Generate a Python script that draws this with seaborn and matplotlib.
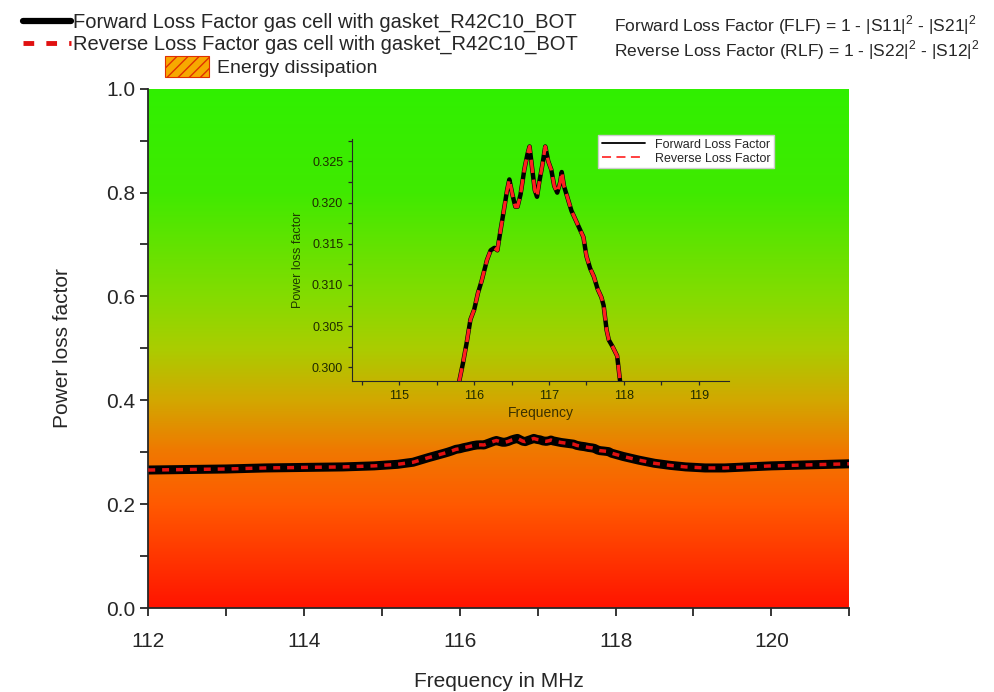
import matplotlib
matplotlib.use("Agg")
import matplotlib.pyplot as plt
import numpy as np
import pandas as pd
import seaborn as sns
from matplotlib.colors import LinearSegmentedColormap
from matplotlib.lines import Line2D
from matplotlib.patches import Patch
from matplotlib.ticker import MultipleLocator

# full sweep, wings
left_freq = [112.0, 112.5, 113.0, 113.5, 114.0, 114.5, 114.9, 115.2, 115.4, 115.6]
left_loss = [0.266, 0.267, 0.268, 0.270, 0.271, 0.272, 0.274, 0.277, 0.281, 0.290]
right_freq = [118.1, 118.3, 118.5, 118.7, 118.9, 119.15, 119.4, 119.7, 120.0, 120.5, 121.0]
right_loss = [0.292, 0.285, 0.279, 0.275, 0.272, 0.270, 0.270, 0.272, 0.274, 0.276, 0.278]

# peak region
peak_freq = [115.80, 115.85, 115.90, 115.95, 116.00, 116.05, 116.10, 116.17, 116.22, 116.27,
             116.31, 116.35, 116.39, 116.44, 116.47, 116.51, 116.55, 116.58, 116.62, 116.67,
             116.71, 116.74, 116.77, 116.81, 116.84, 116.87, 116.91, 116.95, 116.99, 117.03,
             117.07, 117.11, 117.15, 117.17, 117.20, 117.25, 117.30, 117.35, 117.40, 117.46,
             117.50, 117.55, 117.60, 117.65, 117.70, 117.73, 117.77, 117.80, 117.85, 117.91,
             117.95]
peak_loss = [0.2983, 0.3005, 0.3030, 0.3058, 0.3070, 0.3090, 0.3105, 0.3130, 0.3142, 0.3145,
             0.3142, 0.3165, 0.3187, 0.3215, 0.3228, 0.3210, 0.3195, 0.3195, 0.3210, 0.3240,
             0.3258, 0.3268, 0.3245, 0.3215, 0.3207, 0.3225, 0.3245, 0.3268, 0.3250, 0.3240,
             0.3220, 0.3212, 0.3225, 0.3237, 0.3220, 0.3205, 0.3190, 0.3180, 0.3170, 0.3158,
             0.3135, 0.3120, 0.3110, 0.3095, 0.3085, 0.3075, 0.3045, 0.3033, 0.3025, 0.3014,
             0.2983]

main = pd.DataFrame({"freq": left_freq + peak_freq + right_freq,
                     "loss": left_loss + peak_loss + right_loss})
peak = pd.DataFrame({"freq": peak_freq, "loss": peak_loss})

sns.set_style("ticks")
plt.rcParams["font.family"] = ["Liberation Sans", "DejaVu Sans"]
plt.rcParams["mathtext.fontset"] = "custom"
plt.rcParams["mathtext.rm"] = "Liberation Sans"

fig = plt.figure(figsize=(9.95, 6.92), dpi=100)
ax = fig.add_axes([0.149, 0.121, 0.7045, 0.751])

bg = LinearSegmentedColormap.from_list(
    "dissipation",
    [(0.0, "#ff1400"), (0.2, "#ff5a00"), (0.3, "#f07800"), (0.4, "#d2a800"),
     (0.5, "#aacd00"), (0.6, "#84dc00"), (0.8, "#40ea00"), (1.0, "#30f000")])
ax.imshow(np.linspace(0, 1, 256).reshape(-1, 1), cmap=bg, origin="lower",
          extent=[112, 121, 0, 1], aspect="auto", zorder=0)

sns.lineplot(data=main, x="freq", y="loss", ax=ax, color="black", lw=6.5, zorder=2)
sns.lineplot(data=main, x="freq", y="loss", ax=ax, color="#e01010", lw=2.5,
             zorder=3).lines[-1].set_dashes([2, 2])

ax.set_xlim(112, 121)
ax.set_ylim(0, 1)
ax.xaxis.set_major_locator(MultipleLocator(2))
ax.xaxis.set_minor_locator(MultipleLocator(1))
ax.yaxis.set_major_locator(MultipleLocator(0.2))
ax.yaxis.set_minor_locator(MultipleLocator(0.1))
ax.yaxis.set_major_formatter(plt.FormatStrFormatter("%.1f"))
ax.tick_params(which="both", direction="out", length=6, width=1.3, labelsize=15)
ax.tick_params(axis="x", pad=11)
for s in ["top", "right"]:
    ax.spines[s].set_visible(False)
for s in ["left", "bottom"]:
    ax.spines[s].set_linewidth(1.3)
ax.set_xlabel("Frequency in MHz", fontsize=15, labelpad=15)
ax.set_ylabel("Power loss factor", fontsize=15, labelpad=24)

# inset zoom on the peak
ins = fig.add_axes([0.354, 0.449, 0.379, 0.350])
ins.patch.set_alpha(0)
sns.lineplot(data=peak, x="freq", y="loss", ax=ins, color="black", lw=3.2,
             label="Forward Loss Factor")
sns.lineplot(data=peak, x="freq", y="loss", ax=ins, color="#ff2020", lw=2.4,
             label="Reverse Loss Factor").lines[-1].set_dashes([4, 2])
ins.set_xlim(114.37, 119.41)
ins.set_ylim(0.2983, 0.3277)
ins.xaxis.set_major_locator(MultipleLocator(1))
ins.xaxis.set_minor_locator(MultipleLocator(0.5))
ins.yaxis.set_major_locator(MultipleLocator(0.005))
ins.yaxis.set_minor_locator(MultipleLocator(0.0025))
ins.yaxis.set_major_formatter(plt.FormatStrFormatter("%.3f"))
ins.tick_params(which="both", direction="out", length=3, width=0.9, labelsize=9,
                labelcolor="#1e2a00")
for s in ["top", "right"]:
    ins.spines[s].set_visible(False)
ins.set_xlabel("Frequency", fontsize=10, color="#3a3000", labelpad=3)
ins.set_ylabel("Power loss factor", fontsize=9, color="#1e3a00", labelpad=6)
ins.get_legend().remove()
leg_lines = [Line2D([], [], color="black", lw=1.3),
             Line2D([], [], color="#ff3030", lw=1.3, dashes=[5, 3])]
fig.legend(handles=leg_lines, labels=["Forward Loss Factor", "Reverse Loss Factor"],
           loc="upper right", bbox_to_anchor=(0.778, 0.805), fontsize=9, frameon=True,
           fancybox=False, edgecolor="#cccccc", framealpha=1, handlelength=3.4,
           borderpad=0.3, labelspacing=0.15, borderaxespad=0)

# top legend
top_handles = [Line2D([], [], color="black", lw=4.5),
               Line2D([], [], color="#e01010", lw=3.5, dashes=[2.2, 2.5])]
fig.legend(handles=top_handles,
           labels=["Forward Loss Factor gas cell with gasket_R42C10_BOT",
                   "Reverse Loss Factor gas cell with gasket_R42C10_BOT"],
           loc="upper left", bbox_to_anchor=(0.005, 1.008), fontsize=14.5, frameon=False,
           handlelength=2.4, handletextpad=0.1, labelspacing=0.15)
fig.legend(handles=[Patch(facecolor="#f7a800", edgecolor="#e03000", hatch="///", lw=0.8)],
           labels=["Energy dissipation"], loc="upper left", bbox_to_anchor=(0.148, 0.945),
           fontsize=14, frameon=False, handlelength=2.3, handleheight=1.3,
           handletextpad=0.4)

fig.text(0.617, 0.963, r"Forward Loss Factor (FLF) = 1 - |S11|$^2$ - |S21|$^2$",
         fontsize=12.5, va="center")
fig.text(0.617, 0.928, r"Reverse Loss Factor (RLF) = 1 - |S22|$^2$ - |S12|$^2$",
         fontsize=12.5, va="center")

fig.savefig("out.png", dpi=100)
